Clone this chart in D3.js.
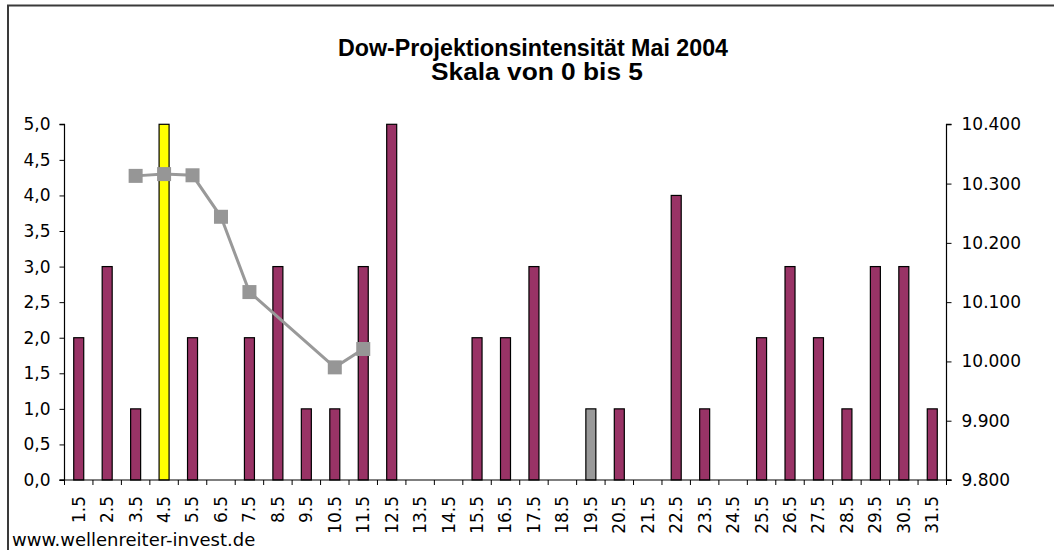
<!DOCTYPE html>
<html>
<head>
<meta charset="utf-8">
<script src="https://cdn.jsdelivr.net/npm/d3@7"></script>
<style>
  html, body { margin: 0; padding: 0; background: #fff; }
  svg { display: block; }
</style>
</head>
<body>
<svg id="chart" width="1054" height="550"></svg>
<script>
// ---- data ----
const titleLines = ["Dow-Projektionsintensität Mai 2004", "Skala von 0 bis 5"];
const sourceText = "www.wellenreiter-invest.de";
const categories = ["1.5","2.5","3.5","4.5","5.5","6.5","7.5","8.5","9.5","10.5","11.5","12.5","13.5","14.5","15.5","16.5","17.5","18.5","19.5","20.5","21.5","22.5","23.5","24.5","25.5","26.5","27.5","28.5","29.5","30.5","31.5"];
const intensity = [2,3,1,5,2,0,2,3,1,1,3,5,0,0,2,2,3,0,1,1,0,4,1,0,2,3,2,1,3,3,1];
const highlightYellow = ["4.5"];
const highlightGray = ["19.5"];
const dowProjection = [null,null,10313,10316,10314,10244,10117,null,null,9990,10021,null,null,null,null,null,null,null,null,null,null,null,null,null,null,null,null,null,null,null,null];
const leftTicks = [0,0.5,1,1.5,2,2.5,3,3.5,4,4.5,5];
const rightTicks = [9800,9900,10000,10100,10200,10300,10400];

// ---- layout ----
const svg = d3.select("#chart");
const plot = { left: 64.5, right: 946.5, top: 124.3, bottom: 480 };

svg.append("rect").attr("width", 1054).attr("height", 550).attr("fill", "#fff");
// frame (left + top)
svg.append("path").attr("d", "M8,550 L8,5.5 L1054,5.5")
  .attr("fill", "none").attr("stroke", "#3a3a3a").attr("stroke-width", 2);

const x = d3.scaleBand().domain(categories).range([plot.left, plot.right]).paddingInner(0).paddingOuter(0);
const yL = d3.scaleLinear().domain([0, 5]).range([plot.bottom, plot.top]);
const yR = d3.scaleLinear().domain([9800, 10400]).range([plot.bottom, plot.top]);

// title
const titleSpecs = [{ cx: 533, y: 56, len: 390 }, { cx: 537, y: 80, len: 212 }];
svg.append("g").selectAll("text").data(titleLines).join("text")
  .attr("x", (d, i) => titleSpecs[i].cx).attr("y", (d, i) => titleSpecs[i].y)
  .attr("text-anchor", "middle")
  .attr("font-family", "'Liberation Sans', Arial, sans-serif")
  .attr("font-weight", "bold").attr("font-size", 23)
  .attr("textLength", (d, i) => titleSpecs[i].len)
  .attr("lengthAdjust", "spacingAndGlyphs")
  .attr("fill", "#000")
  .text(d => d);

// bars
const bw = 10;
svg.append("g").selectAll("rect").data(categories).join("rect")
  .attr("x", d => x(d) + x.bandwidth() / 2 - bw / 2)
  .attr("width", bw)
  .attr("y", (d, i) => yL(intensity[i]))
  .attr("height", (d, i) => yL(0) - yL(intensity[i]))
  .attr("fill", d => highlightYellow.includes(d) ? "#ffff00" : highlightGray.includes(d) ? "#999999" : "#993366")
  .attr("stroke", "#000").attr("stroke-width", 1.2)
  .attr("display", (d, i) => intensity[i] > 0 ? null : "none");

// axes
const axisFont = "'DejaVu Sans', Verdana, sans-serif";
const gL = svg.append("g").attr("transform", `translate(${plot.left},0)`)
  .call(d3.axisLeft(yL).tickValues(leftTicks).tickSize(5).tickPadding(9)
    .tickFormat(d => d3.format(".1f")(d).replace(".", ",")));
const gR = svg.append("g").attr("transform", `translate(${plot.right},0)`)
  .call(d3.axisRight(yR).tickValues(rightTicks).tickSize(5).tickPadding(10)
    .tickFormat(d => d3.format(",")(d).replace(/,/g, ".")));
const gX = svg.append("g").attr("transform", `translate(0,${plot.bottom})`)
  .call(d3.axisBottom(x).tickSize(0).tickPadding(0));

// boundary ticks for category axis
const bounds = categories.map(c => x(c)).concat([plot.right]);
svg.append("g").selectAll("line").data(bounds).join("line")
  .attr("x1", d => d).attr("x2", d => d)
  .attr("y1", plot.bottom).attr("y2", plot.bottom + 5)
  .attr("stroke", "#000").attr("stroke-width", 1);

[gL, gR, gX].forEach(g => {
  g.select(".domain").attr("stroke", "#000").attr("stroke-width", 1.2);
  g.selectAll(".tick line").attr("stroke", "#000");
  g.selectAll("text").attr("font-family", axisFont).attr("font-size", 17).attr("fill", "#000");
});
gL.select(".domain").attr("d", `M-5,${plot.top}H0V${plot.bottom}H-5`);
gR.select(".domain").attr("d", `M5,${plot.top}H0V${plot.bottom}H5`);
gX.select(".domain").attr("d", `M${plot.left - 5},0H${plot.right + 5}`);

gX.selectAll(".tick text")
  .attr("transform", "rotate(-90)")
  .attr("text-anchor", "end")
  .attr("x", -16).attr("y", 0).attr("dy", "0.35em");

// line series
const pts = categories.map((c, i) => ({ c, v: dowProjection[i] })).filter(d => d.v != null);
const lineGen = d3.line().x(d => x(d.c) + x.bandwidth() / 2).y(d => yR(d.v));
svg.append("path").datum(pts).attr("d", lineGen)
  .attr("fill", "none").attr("stroke", "#999999").attr("stroke-width", 3);
const ms = 14;
svg.append("g").selectAll("rect").data(pts).join("rect")
  .attr("x", d => x(d.c) + x.bandwidth() / 2 - ms / 2)
  .attr("y", d => yR(d.v) - ms / 2)
  .attr("width", ms).attr("height", ms)
  .attr("fill", "#969696");

// source
svg.append("text").attr("x", 12).attr("y", 546)
  .attr("font-family", axisFont).attr("font-size", 18).attr("fill", "#000")
  .text(sourceText);
</script>
</body>
</html>
